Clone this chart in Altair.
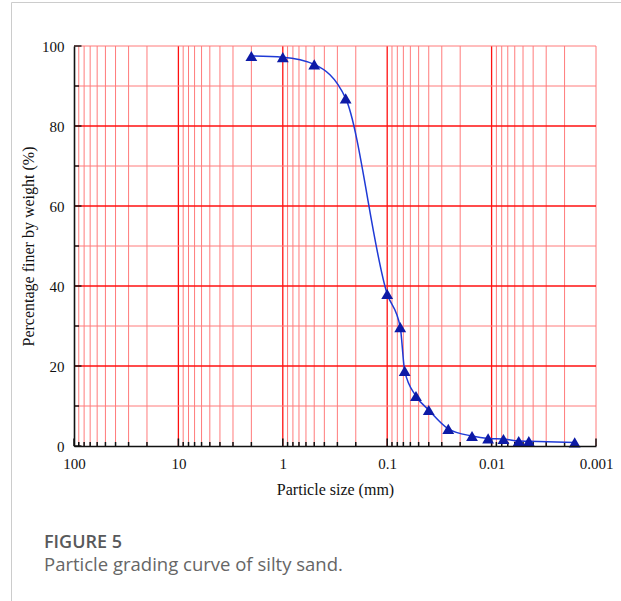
import altair as alt
import pandas as pd

# ---- data ----
particle_size_mm = [2, 1, 0.5, 0.25, 0.1, 0.075, 0.068, 0.053, 0.04, 0.026,
                    0.0154, 0.0108, 0.0077, 0.0055, 0.0044, 0.0016]
percent_finer = [97.5, 97.2, 95.4, 86.9, 38.0, 29.7, 18.8, 12.5, 9.0, 4.3,
                 2.5, 1.9, 1.75, 1.25, 1.2, 0.9]

x_tick_labels = [100, 10, 1, 0.1, 0.01, 0.001]
x_dark_grid = [10, 1, 0.1, 0.01]
x_light_grid = [90, 80, 70, 60, 50, 40, 30, 20,
                9, 8, 7, 6, 5, 4, 3, 2,
                0.9, 0.8, 0.7, 0.6, 0.5, 0.4, 0.3, 0.2,
                0.09, 0.08, 0.07, 0.06, 0.05, 0.04, 0.03, 0.02,
                0.009, 0.008, 0.007, 0.006, 0.005, 0.004, 0.003, 0.002, 0.001]
x_minor_ticks = [90, 80, 70, 60, 50, 40, 30, 20,
                 9, 8, 7, 6, 5, 4, 3, 2,
                 0.9, 0.8, 0.7, 0.6, 0.5, 0.4, 0.3, 0.2,
                 0.09, 0.08, 0.07, 0.06, 0.05, 0.04, 0.03, 0.02,
                 0.009, 0.008, 0.007, 0.006, 0.005, 0.004, 0.003, 0.002]
y_tick_labels = [0, 20, 40, 60, 80, 100]
y_dark_grid = [20, 40, 60, 80]
y_light_grid = [10, 30, 50, 70, 90, 100]
y_minor_ticks = [10, 30, 50, 70, 90]

x_title = "Particle size (mm)"
y_title = "Percentage finer by weight (%)"
fig_label = "FIGURE 5"
fig_caption = "Particle grading curve of silty sand."

df = pd.DataFrame({"size": particle_size_mm, "finer": percent_finer})

W, H = 522, 400
xs = alt.Scale(type="log", domain=[0.001, 100], reverse=True, nice=False)
ys = alt.Scale(domain=[0, 100], nice=False)
serif = "Liberation Serif"

X_AXIS = alt.Axis(values=x_tick_labels, format="~g", title=x_title,
                  ticks=False, tickSize=0, grid=False, domainColor="#111",
                  domainWidth=1.6, labelFont=serif, labelFontSize=15,
                  labelColor="#111", labelPadding=10, labelFlush=False,
                  titleFont=serif, titleFontSize=16, titleFontWeight="normal",
                  titleColor="#111", titlePadding=10, zindex=1)
Y_AXIS = alt.Axis(values=y_tick_labels, title=y_title, ticks=False, tickSize=0,
                  grid=False, domainColor="#111", domainWidth=1.6,
                  labelFont=serif, labelFontSize=15, labelColor="#111",
                  labelPadding=10, labelFlush=False,
                  titleFont=serif, titleFontSize=16, titleFontWeight="normal",
                  titleColor="#111", titlePadding=5, zindex=1)


def vals(v):
    return pd.DataFrame({"v": v})


def xenc():
    return alt.X("v:Q", scale=xs, axis=X_AXIS)


def yenc():
    return alt.Y("v:Q", scale=ys, axis=Y_AXIS)


vgrid_light = alt.Chart(vals(x_light_grid)).mark_rule(color="#ff7b7b", strokeWidth=1).encode(x=xenc())
vgrid_dark = alt.Chart(vals(x_dark_grid)).mark_rule(color="#ff1010", strokeWidth=1.3).encode(x=xenc())
hgrid_light = alt.Chart(vals(y_light_grid)).mark_rule(color="#ff7b7b", strokeWidth=1).encode(y=yenc())
hgrid_dark = alt.Chart(vals(y_dark_grid)).mark_rule(color="#ff1010", strokeWidth=1.3).encode(y=yenc())

xt_minor = alt.Chart(vals(x_minor_ticks)).mark_rule(color="#111", strokeWidth=1.5).encode(
    x=xenc(), y=alt.value(H), y2=alt.value(H - 4))
xt_major = alt.Chart(vals(x_tick_labels)).mark_rule(color="#111", strokeWidth=1.5).encode(
    x=xenc(), y=alt.value(H), y2=alt.value(H - 7.5))
yt_minor = alt.Chart(vals(y_minor_ticks)).mark_rule(color="#111", strokeWidth=1.4).encode(
    y=yenc(), x=alt.value(0), x2=alt.value(5))
yt_major = alt.Chart(vals(y_tick_labels)).mark_rule(color="#111", strokeWidth=1.4).encode(
    y=yenc(), x=alt.value(0), x2=alt.value(7.5))

base = alt.Chart(df).encode(
    x=alt.X("size:Q", scale=xs, axis=X_AXIS),
    y=alt.Y("finer:Q", scale=ys, axis=Y_AXIS),
    order=alt.Order("size:Q", sort="descending"),
)
line = base.mark_line(color="#1f3ad6", strokeWidth=1.5, interpolate="monotone")
points = base.mark_point(shape="triangle-up", filled=True, size=140, color="#0d1aa6", opacity=1)

frame_v = alt.Chart(vals([0])).mark_rule(color="#cccccc", strokeWidth=1).encode(
    x=alt.value(-62.5), y=alt.value(-43.5), y2=alt.value(560))
frame_h = alt.Chart(vals([0])).mark_rule(color="#cccccc", strokeWidth=1).encode(
    x=alt.value(-62.5), x2=alt.value(560), y=alt.value(-43.5))

label_txt = alt.Chart(pd.DataFrame({"t": [fig_label]})).mark_text(
    align="left", baseline="alphabetic", font="Open Sans", fontSize=18, fontWeight=600,
    color="#58595b").encode(x=alt.value(-30), y=alt.value(502), text="t:N")
caption_txt = alt.Chart(pd.DataFrame({"t": [fig_caption]})).mark_text(
    align="left", baseline="alphabetic", font="Open Sans", fontSize=18.5, fontWeight=400,
    color="#666666").encode(x=alt.value(-30), y=alt.value(525), text="t:N")

chart = alt.layer(
    vgrid_light, vgrid_dark, hgrid_light, hgrid_dark,
    xt_minor, xt_major, yt_minor, yt_major,
    line, points, frame_v, frame_h, label_txt, caption_txt,
).properties(
    width=W, height=H,
    padding={"left": 74, "top": 46, "right": 25, "bottom": 155},
    autosize=alt.AutoSizeParams(type="none"),
    background="white",
).configure_view(stroke=None)

chart.save("out.html", embed_options={"renderer": "svg", "actions": False})
